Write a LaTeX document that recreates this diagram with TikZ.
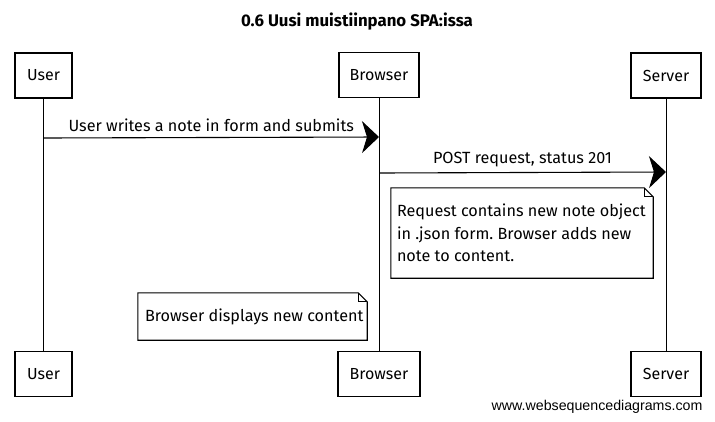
\documentclass[tikz,border=0pt]{standalone}
\usepackage{fontspec}
\setmainfont{Fira Sans}
\newfontfamily\wsdfont{Liberation Sans}
\usetikzlibrary{arrows.meta}
\frenchspacing

\tikzset{
  actor/.style={draw, line width=1.1pt, minimum height=45pt, inner sep=0pt,
    font=\fontsize{16}{18}\selectfont},
  lifeline/.style={line width=1pt},
  msg/.style={line width=1.1pt, -{Stealth[length=17pt,width=32pt,inset=5pt]}},
  msglabel/.style={font=\fontsize{16.2}{18}\selectfont, above=2pt},
  notebox/.style={inner sep=7pt, font=\fontsize{16.2}{22.5}\selectfont, align=left}
}
\newcommand{\foldnote}[1]{%
  \draw[line width=1.1pt, fill=white] (#1.north west) -- ([xshift=-9pt]#1.north east)
    -- ([yshift=-9pt]#1.north east) -- (#1.south east) -- (#1.south west) -- cycle;
  \draw[line width=0.8pt] ([xshift=-9pt]#1.north east) -- ([xshift=-9pt,yshift=-9pt]#1.north east)
    -- ([yshift=-9pt]#1.north east);
}

\begin{document}
\begin{tikzpicture}[x=1pt,y=-1pt]
    \useasboundingbox (0,0) rectangle (715,421);
    \node[font=\bfseries\fontsize{16.8}{18}\selectfont] (title) at (357,22) {0.6 Uusi muistiinpano SPA:issa};
    % participants
    \node[actor, minimum width=57pt] (usertop) at (43.5,75.5) {User};
    \node[actor, minimum width=80pt] (browsertop) at (379,75) {Browser};
    \node[actor, minimum width=70pt] (servertop) at (666,75.5) {Server};
    \node[actor, minimum width=57pt] (userbot) at (43.5,374) {User};
    \node[actor, minimum width=82pt] (browserbot) at (379,374) {Browser};
    \node[actor, minimum width=70pt] (serverbot) at (666,374) {Server};
    \draw[lifeline] (usertop) -- (userbot);
    \draw[lifeline] (browsertop) -- (browserbot);
    \draw[lifeline] (servertop) -- (serverbot);
    % messages
    \coordinate (m1a) at (43.5,138);
    \coordinate (m1b) at (379,137);
    \draw[msg] (m1a) -- node[msglabel] (m1label) {User writes a note in form and submits} (m1b);
    \coordinate (m2a) at (379,173);
    \coordinate (m2b) at (666,172);
    \draw[msg] (m2a) -- node[msglabel] (m2label) {POST request, status 201} (m2b);
    % notes
    \node[minimum width=262pt, minimum height=90pt] (note1) at (522,233) {};
    \foldnote{note1}
    \node[notebox, anchor=west] (note1text) at ([xshift=-1pt]note1.west) {Request contains new note object\\in .json form. Browser adds new\\note to content.};
    \node[minimum width=229pt, minimum height=47pt] (note2) at (252.5,316.5) {};
    \foldnote{note2}
    \node[notebox, anchor=west] (note2text) at (note2.west) {Browser displays new content};
    \node[font=\wsdfont\fontsize{14.2}{16}\selectfont, anchor=east] (wsd) at (706,407) {www.websequencediagrams.com};
\end{tikzpicture}
\end{document}
